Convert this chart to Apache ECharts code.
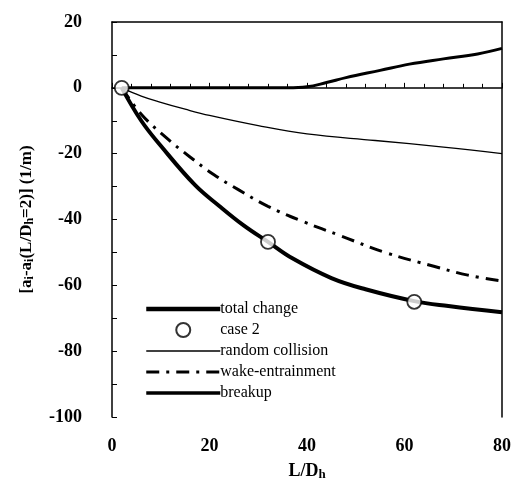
<!DOCTYPE html>
<html>
<head>
<meta charset="utf-8">
<script src="https://cdn.jsdelivr.net/npm/echarts@6/dist/echarts.min.js"></script>
<style>
  html, body { margin: 0; padding: 0; background: #fff; }
  #chart { width: 514px; height: 487px; }
</style>
</head>
<body>
<div id="chart"></div>
<script>
// values
var totalX = [2, 6, 10, 17, 22, 27, 32, 37, 45, 52, 62, 69, 80];
var totalY = [0, -10, -17.6, -29.5, -35.9, -41.8, -46.8, -51.8, -57.8, -61.2, -64.8, -66.3, -68.2];

var caseX = [2, 32, 62];
var caseY = [0, -46.8, -65];

var randomX = [2, 6, 10, 15, 20, 30, 40, 54, 68, 80];
var randomY = [0, -2.5, -4.4, -6.5, -8.4, -11.5, -14, -16, -18, -20];

var wakeX = [2, 6, 11, 16, 21, 26, 32, 39, 47, 56, 66, 73, 80];
var wakeY = [0, -8, -15, -21, -26.5, -31, -36, -40.5, -45, -50, -54.2, -56.9, -58.7];

var breakupX = [2, 36, 40, 44, 48, 55, 61, 68, 75, 80];
var breakupY = [0, 0, 0.3, 1.6, 3.1, 5.3, 7.2, 8.8, 10.3, 12];

function pairs(xs, ys) {
  return xs.map(function (x, i) { return [x, ys[i]]; });
}

var chart = echarts.init(document.getElementById('chart'));
var serif = '"Liberation Serif", "DejaVu Serif", serif';

var tickLbl = { fontFamily: serif, fontWeight: 'bold', fontSize: 18, color: '#000' };
var noDot = { opacity: 0 };

var option = {
  animation: false,
  backgroundColor: '#fff',
  grid: { left: 112, right: 11, top: 22, bottom: 70 },
  legend: {
    orient: 'vertical',
    left: 139,
    top: 296,
    itemWidth: 74,
    itemHeight: 14,
    itemGap: 5,
    textStyle: { fontFamily: serif, fontSize: 16, color: '#000', padding: [0, 0, 0, -5] },
    data: [
      { name: 'total change', itemStyle: noDot, lineStyle: { width: 4.5 } },
      { name: 'case 2', itemStyle: { borderWidth: 2 } },
      { name: 'random collision', itemStyle: noDot, lineStyle: { width: 1.5 } },
      { name: 'wake-entrainment', itemStyle: noDot, lineStyle: { width: 3 } },
      { name: 'breakup', itemStyle: noDot, lineStyle: { width: 3.5 } }
    ]
  },
  xAxis: [{
    type: 'value', min: 0, max: 80, interval: 20,
    axisLine: { lineStyle: { color: '#000', width: 1.5 } },
    axisTick: { inside: true, length: 5, lineStyle: { color: '#000' } },
    minorTick: { show: true, splitNumber: 5, length: 4, lineStyle: { color: '#000' } },
    splitLine: { show: false },
    axisLabel: Object.assign({ margin: 20 }, tickLbl),
    name: 'L/D{sub|h}',
    nameLocation: 'middle',
    nameGap: 45,
    nameTextStyle: {
      fontFamily: serif, fontWeight: 'bold', fontSize: 18, color: '#000',
      rich: { sub: { fontFamily: serif, fontWeight: 'bold', fontSize: 13, color: '#000', verticalAlign: 'bottom', padding: [6, 0, 0, 0] } }
    }
  }, {
    type: 'value', min: 0, max: 80, position: 'top',
    axisLine: { show: true, onZero: false, lineStyle: { color: '#000', width: 1.5 } },
    axisTick: { show: false }, axisLabel: { show: false }, splitLine: { show: false }
  }],
  yAxis: [{
    type: 'value', min: -100, max: 20, interval: 20,
    axisLine: { show: true, onZero: false, lineStyle: { color: '#000', width: 1.5 } },
    axisTick: { inside: true, length: 5, lineStyle: { color: '#000' } },
    minorTick: { show: true, splitNumber: 2, length: 5, lineStyle: { color: '#000' } },
    splitLine: { show: false },
    axisLabel: Object.assign({ margin: 30 }, tickLbl),
    name: '[a{sub|i}-a{sub|i}(L/D{sub|h}=2)] (1/m)',
    nameLocation: 'middle',
    nameRotate: 90,
    nameGap: 76,
    nameTextStyle: {
      fontFamily: serif, fontWeight: 'bold', fontSize: 17, color: '#000',
      rich: { sub: { fontFamily: serif, fontWeight: 'bold', fontSize: 12, color: '#000', verticalAlign: 'bottom', padding: [6, 0, 0, 0] } }
    }
  }, {
    type: 'value', min: -100, max: 20, position: 'right',
    axisLine: { show: true, onZero: false, lineStyle: { color: '#000', width: 1.5 } },
    axisTick: { show: false }, axisLabel: { show: false }, splitLine: { show: false }
  }],
  series: [{
    name: 'total change', type: 'line', smooth: 0.4, symbol: 'none',
    lineStyle: { color: '#000', width: 4 }, itemStyle: { color: '#000' },
    data: pairs(totalX, totalY), z: 3
  }, {
    name: 'case 2', type: 'scatter', symbol: 'circle', symbolSize: 14,
    itemStyle: { color: '#fff', borderColor: '#000', borderWidth: 1.8 },
    data: pairs(caseX, caseY), z: 10
  }, {
    name: 'random collision', type: 'line', smooth: 0.4, symbol: 'none',
    lineStyle: { color: '#000', width: 1.3 }, itemStyle: { color: '#000' },
    data: pairs(randomX, randomY), z: 2
  }, {
    name: 'wake-entrainment', type: 'line', smooth: 0.4, symbol: 'none',
    lineStyle: { color: '#000', width: 3, type: [13, 7, 3, 7] }, itemStyle: { color: '#000' },
    data: pairs(wakeX, wakeY), z: 2
  }, {
    name: 'breakup', type: 'line', smooth: 0.4, symbol: 'none',
    lineStyle: { color: '#000', width: 3 }, itemStyle: { color: '#000' },
    data: pairs(breakupX, breakupY), z: 2
  }]
};

chart.setOption(option);
</script>
</body>
</html>
